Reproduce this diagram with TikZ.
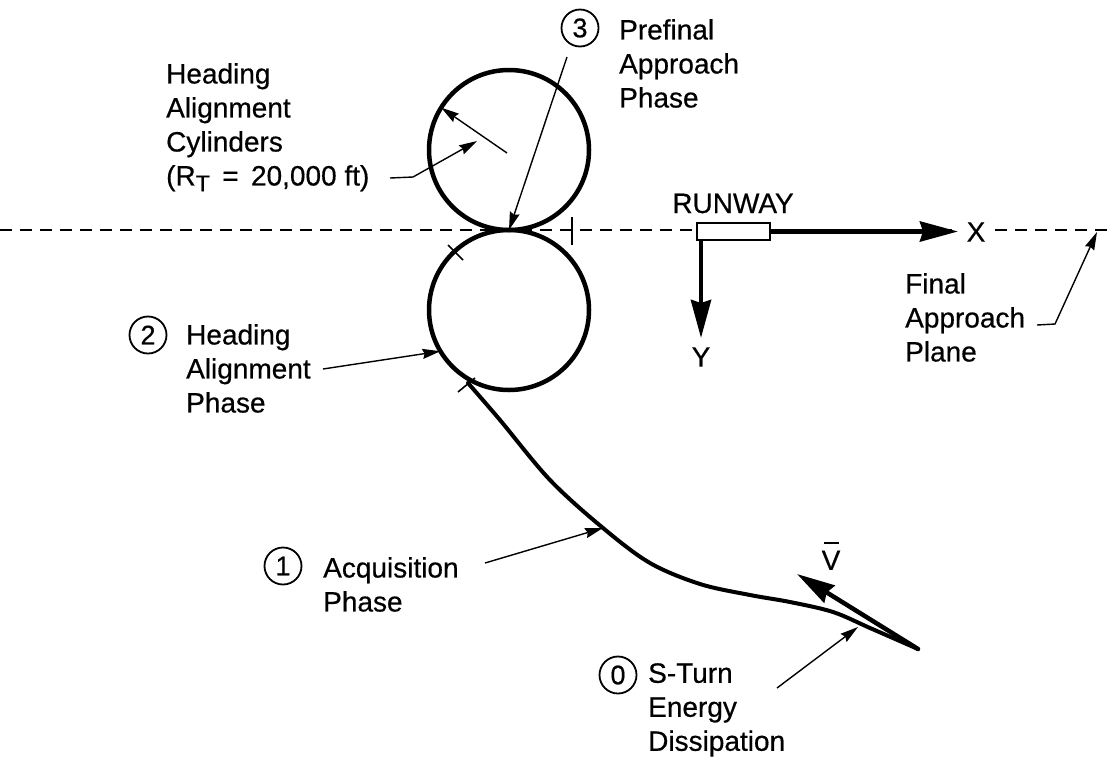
\documentclass[tikz,border=0pt]{standalone}
\usepackage{fontspec}
\setmainfont{Liberation Sans}[FakeBold=0.5]
\usetikzlibrary{arrows.meta,calc}
\begin{document}
\begin{tikzpicture}[x=1pt,y=-1pt,
  lbl/.style={font=\fontsize{28}{34}\selectfont, align=left, anchor=north west, inner sep=0pt},
  txt/.style={font=\fontsize{28}{34}\selectfont, inner sep=0pt},
  num/.style={circle, draw, line width=1.8pt, minimum size=37pt, inner sep=0pt, font=\fontsize{27}{27}\selectfont},
  cyl/.style={circle, draw, line width=4.5pt, minimum size=160pt, inner sep=0pt, outer sep=0pt},
  lead/.style={line width=1.4pt, -{Stealth[length=18pt,width=10pt,inset=2pt]}},
  heavy/.style={line width=4.5pt, -{Stealth[length=38pt,width=20pt,inset=3pt]}},
  traj/.style={line width=4pt, line cap=round, line join=round},
  plane/.style={line width=1.5pt, dash pattern=on 12pt off 8pt},
  tick/.style={line width=1.6pt}]
\useasboundingbox (0,0) rectangle (1114,756);

% final approach plane (dashed)
\coordinate (PL) at (0,230);
\coordinate (PX) at (958,230);
\coordinate (PR0) at (995,230);
\coordinate (PR) at (1114,230);
\draw[plane] (PL) -- (PX);
\draw[plane] (PR0) -- (PR);

% heading alignment cylinders
\node[cyl] (C1) at (509,150) {};
\node[cyl] (C2) at (509,310) {};

% ticks
\coordinate (tk1a) at (572,217); \coordinate (tk1b) at (572,245);
\draw[tick] (tk1a) -- (tk1b);
\coordinate (tk2a) at (448,245); \coordinate (tk2b) at (463,260);
\draw[tick] (tk2a) -- (tk2b);
\coordinate (tk3a) at (458,392); \coordinate (tk3b) at (475,378);
\draw[tick] (tk3a) -- (tk3b);

% trajectory
\coordinate (J) at (468,383);
\coordinate (Q1) at (603,528);
\coordinate (S0) at (918,649);
\draw[traj] plot[smooth, tension=0.55] coordinates {(468,383) (500,420) (550,480) (603,528) (650,563) (700,584) (750,595) (790,602) (833,612) (870,628) (918,649)};

% velocity vector
\coordinate (Vt) at (797,574);
\draw[heavy, line cap=round] (S0) -- (Vt);
\node[txt, align=center, font=\fontsize{28}{26}\selectfont] (Vlab) at (831,556) {\rule{15pt}{1.8pt}\\V};

% runway and axes
\node[draw, line width=1.6pt, fill=white, minimum width=73pt, minimum height=17pt, inner sep=0pt] (RW) at (733.5,231.5) {};
\node[txt, anchor=base] (RWlab) at (733,213) {RUNWAY};
\coordinate (Xend) at (958,231.5);
\draw[heavy] (RW.east) -- (Xend);
\node[txt] (Xlab) at (976,232) {X};
\coordinate (Y0) at (701,240);
\coordinate (Yend) at (701,338);
\draw[heavy] (Y0) -- (Yend);
\node[txt] (Ylab) at (701,357) {Y};

% cylinders label
\node[lbl] (cyl) at (166,63) {Heading\\Alignment\\Cylinders\\(R\raisebox{-0.4ex}{\fontsize{23}{23}\selectfont T}\ \,=\ \,20,000 ft)};
\coordinate (cylA) at (390,178);
\coordinate (cylB) at (413,177);
\coordinate (cylC) at (477,141);
\draw[lead] (cylA) -- (cylB) -- (cylC);
\coordinate (c1c) at (507,153);
\draw[lead] (c1c) -- (C1.148);

% 3 prefinal approach
\node[num] (n3) at (580,28) {3};
\node[lbl] (t3) at (619,19) {Prefinal\\Approach\\Phase};
\coordinate (a3) at (567,57);
\draw[lead] (a3) -- (C1.south);

% 2 heading alignment
\node[num] (n2) at (148,335) {2};
\node[lbl] (t2) at (186,324) {Heading\\Alignment\\Phase};
\coordinate (a2) at (323,369);
\draw[lead] (a2) -- (C2.211);

% 1 acquisition
\node[num] (n1) at (283,566) {1};
\node[lbl] (t1) at (323,557) {Acquisition\\Phase};
\coordinate (a1) at (485,563);
\draw[lead] (a1) -- (Q1);

% 0 S-turn
\node[num] (n0) at (618,675) {0};
\node[lbl] (t0) at (648,663) {S-Turn\\Energy\\Dissipation};
\coordinate (a0) at (777,688);
\coordinate (a0t) at (858,627);
\draw[lead] (a0) -- (a0t);

% final approach plane label
\node[lbl] (tf) at (905,273) {Final\\Approach\\Plane};
\coordinate (fa) at (1037,325);
\coordinate (fb) at (1055,324);
\coordinate (fc) at (1097,232);
\draw[lead] (fa) -- (fb) -- (fc);
\end{tikzpicture}
\end{document}
